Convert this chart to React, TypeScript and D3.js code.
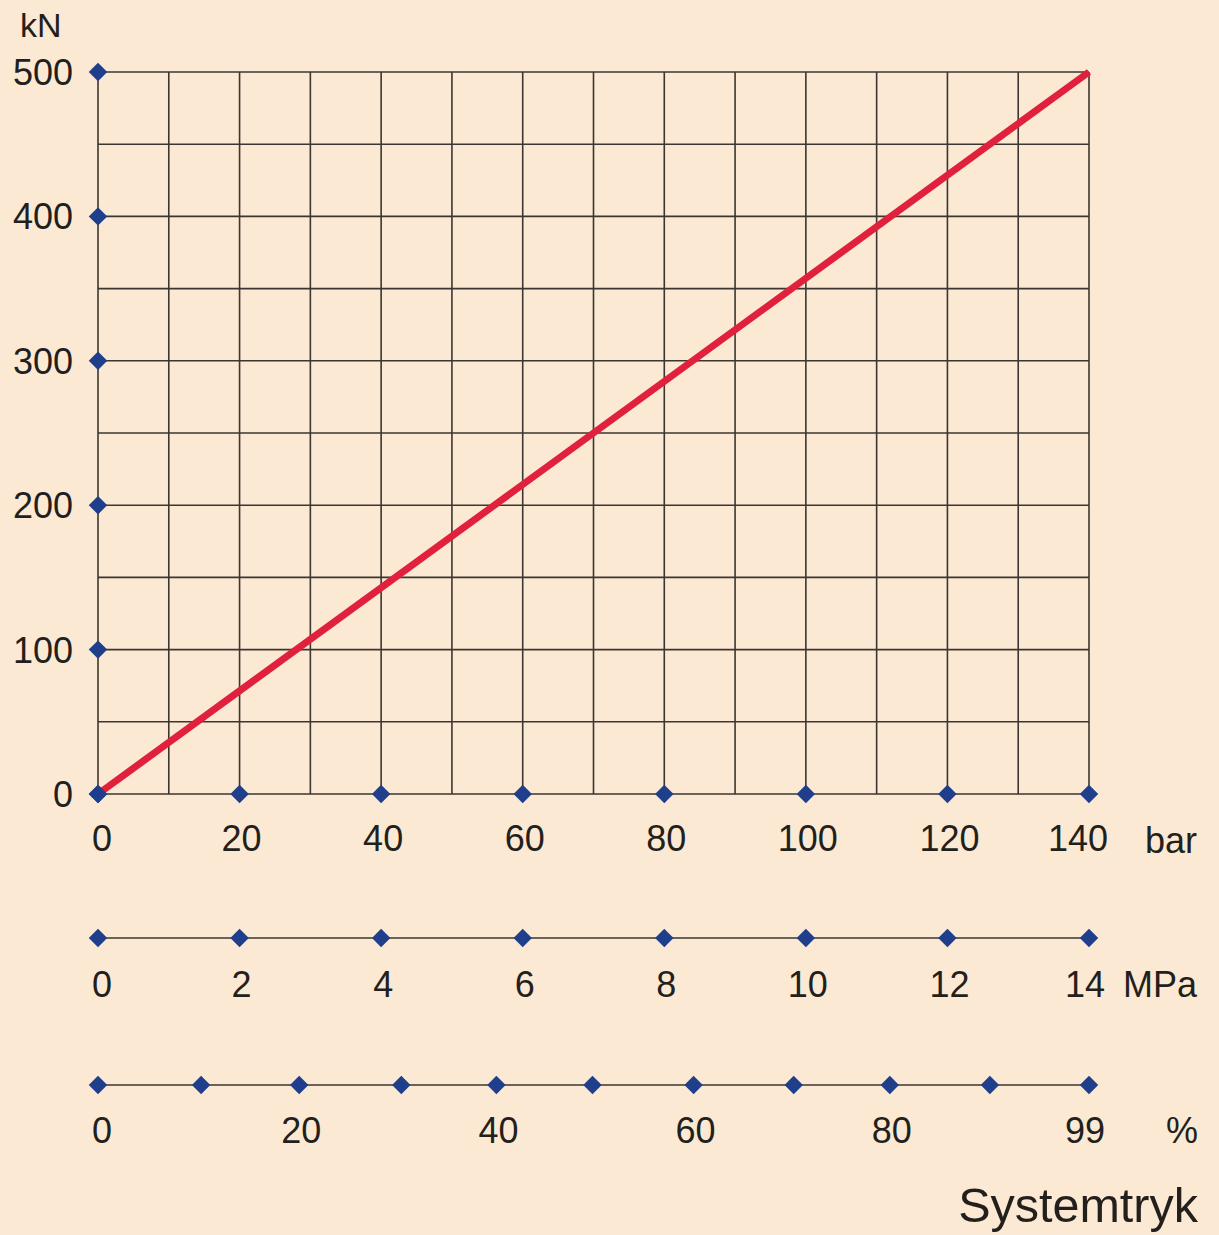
import React from "react";
import * as d3 from "d3";

const barTicks = [0, 20, 40, 60, 80, 100, 120, 140];
const barGrid = [0, 10, 20, 30, 40, 50, 60, 70, 80, 90, 100, 110, 120, 130, 140];
const kNTicks = [0, 100, 200, 300, 400, 500];
const kNGrid = [0, 50, 100, 150, 200, 250, 300, 350, 400, 450, 500];
const mpaTicks = [0, 2, 4, 6, 8, 10, 12, 14];
// percent markers (nominal 0,10,...,90,99)
const pctMarks = [0, 10.3, 20.1, 30.3, 39.8, 49.4, 59.5, 69.5, 79.1, 89.1, 99];
const pctLabels = ["0", "", "20", "", "40", "", "60", "", "80", "", "99"];
const lineBar = [0, 140];
const lineKN = [0, 500];

const W = 1219;
const H = 1235;
const FONT = "'Liberation Sans', Arial, Helvetica, sans-serif";
const BG = "#FBE9D3";
const GRID = "#3b3631";
const NAVY = "#1F3F8C";
const RED = "#E0203C";
const TXT = "#231f1c";

export default function App() {
  const x = d3.scaleLinear().domain([0, 140]).range([98, 1089]);
  const y = d3.scaleLinear().domain([0, 500]).range([794, 72]);
  const xM = d3.scaleLinear().domain([0, 14]).range([98, 1089]);
  const xP = d3.scaleLinear().domain([0, 99]).range([98, 1089]);
  const diamond = d3.symbol(d3.symbolSquare, 170)();
  const line = d3
    .line<number>()
    .x((_, i) => x(lineBar[i]))
    .y((_, i) => y(lineKN[i]));

  const mpaY = 938;
  const pctY = 1085;
  const fs = 36;

  // small label nudges: first label right, last label left
  const nudge = (i: number, n: number, last: number) => (i === 0 ? 4 : i === n - 1 ? last : 2);

  const Dia = ({ cx, cy }: { cx: number; cy: number }) => (
    <path d={diamond!} transform={`translate(${cx},${cy}) rotate(45)`} fill={NAVY} />
  );

  return (
    <svg
      width={W}
      height={H}
      style={{ position: "absolute", left: 0, top: 0, background: BG }}
      fontFamily={FONT}
    >
      <rect width={W} height={H} fill={BG} />
      {/* grid */}
      <g stroke={GRID} strokeWidth={1.6}>
        {barGrid.map((v) => (
          <line key={"vx" + v} x1={x(v)} x2={x(v)} y1={y(0)} y2={y(500)} />
        ))}
        {kNGrid.map((v) => (
          <line key={"hy" + v} x1={x(0)} x2={x(140)} y1={y(v)} y2={y(v)} />
        ))}
        <line x1={xM(0)} x2={xM(14)} y1={mpaY} y2={mpaY} />
        <line x1={xP(0)} x2={xP(99)} y1={pctY} y2={pctY} />
      </g>
      {/* red line */}
      <path d={line(lineBar)!} stroke={RED} strokeWidth={7} fill="none" />
      {/* markers */}
      {kNTicks.map((v) => (
        <Dia key={"dy" + v} cx={x(0)} cy={y(v)} />
      ))}
      {barTicks.map((v) => (
        <Dia key={"dx" + v} cx={x(v)} cy={y(0)} />
      ))}
      {mpaTicks.map((v) => (
        <Dia key={"dm" + v} cx={xM(v)} cy={mpaY} />
      ))}
      {pctMarks.map((v) => (
        <Dia key={"dp" + v} cx={xP(v)} cy={pctY} />
      ))}
      {/* text */}
      <g fill={TXT} fontSize={fs}>
        {kNTicks.map((v) => (
          <text key={"ty" + v} x={73} y={y(v) + 13} textAnchor="end">
            {v}
          </text>
        ))}
        <text x={20} y={37} fontSize={34}>kN</text>
        {barTicks.map((v, i) => (
          <text key={"tx" + v} x={x(v) + nudge(i, barTicks.length, -11)} y={851} textAnchor="middle">
            {v}
          </text>
        ))}
        <text x={1145} y={853}>bar</text>
        {mpaTicks.map((v, i) => (
          <text key={"tm" + v} x={xM(v) + nudge(i, mpaTicks.length, -4)} y={997} textAnchor="middle">
            {v}
          </text>
        ))}
        <text x={1123} y={997}>MPa</text>
        {pctMarks.map((v, i) =>
          pctLabels[i] ? (
            <text key={"tp" + v} x={xP(v) + nudge(i, pctMarks.length, -4)} y={1143} textAnchor="middle">
              {pctLabels[i]}
            </text>
          ) : null
        )}
        <text x={1198} y={1143} textAnchor="end">%</text>
        <text x={1198} y={1222} textAnchor="end" fontSize={48.5}>Systemtryk</text>
      </g>
    </svg>
  );
}
